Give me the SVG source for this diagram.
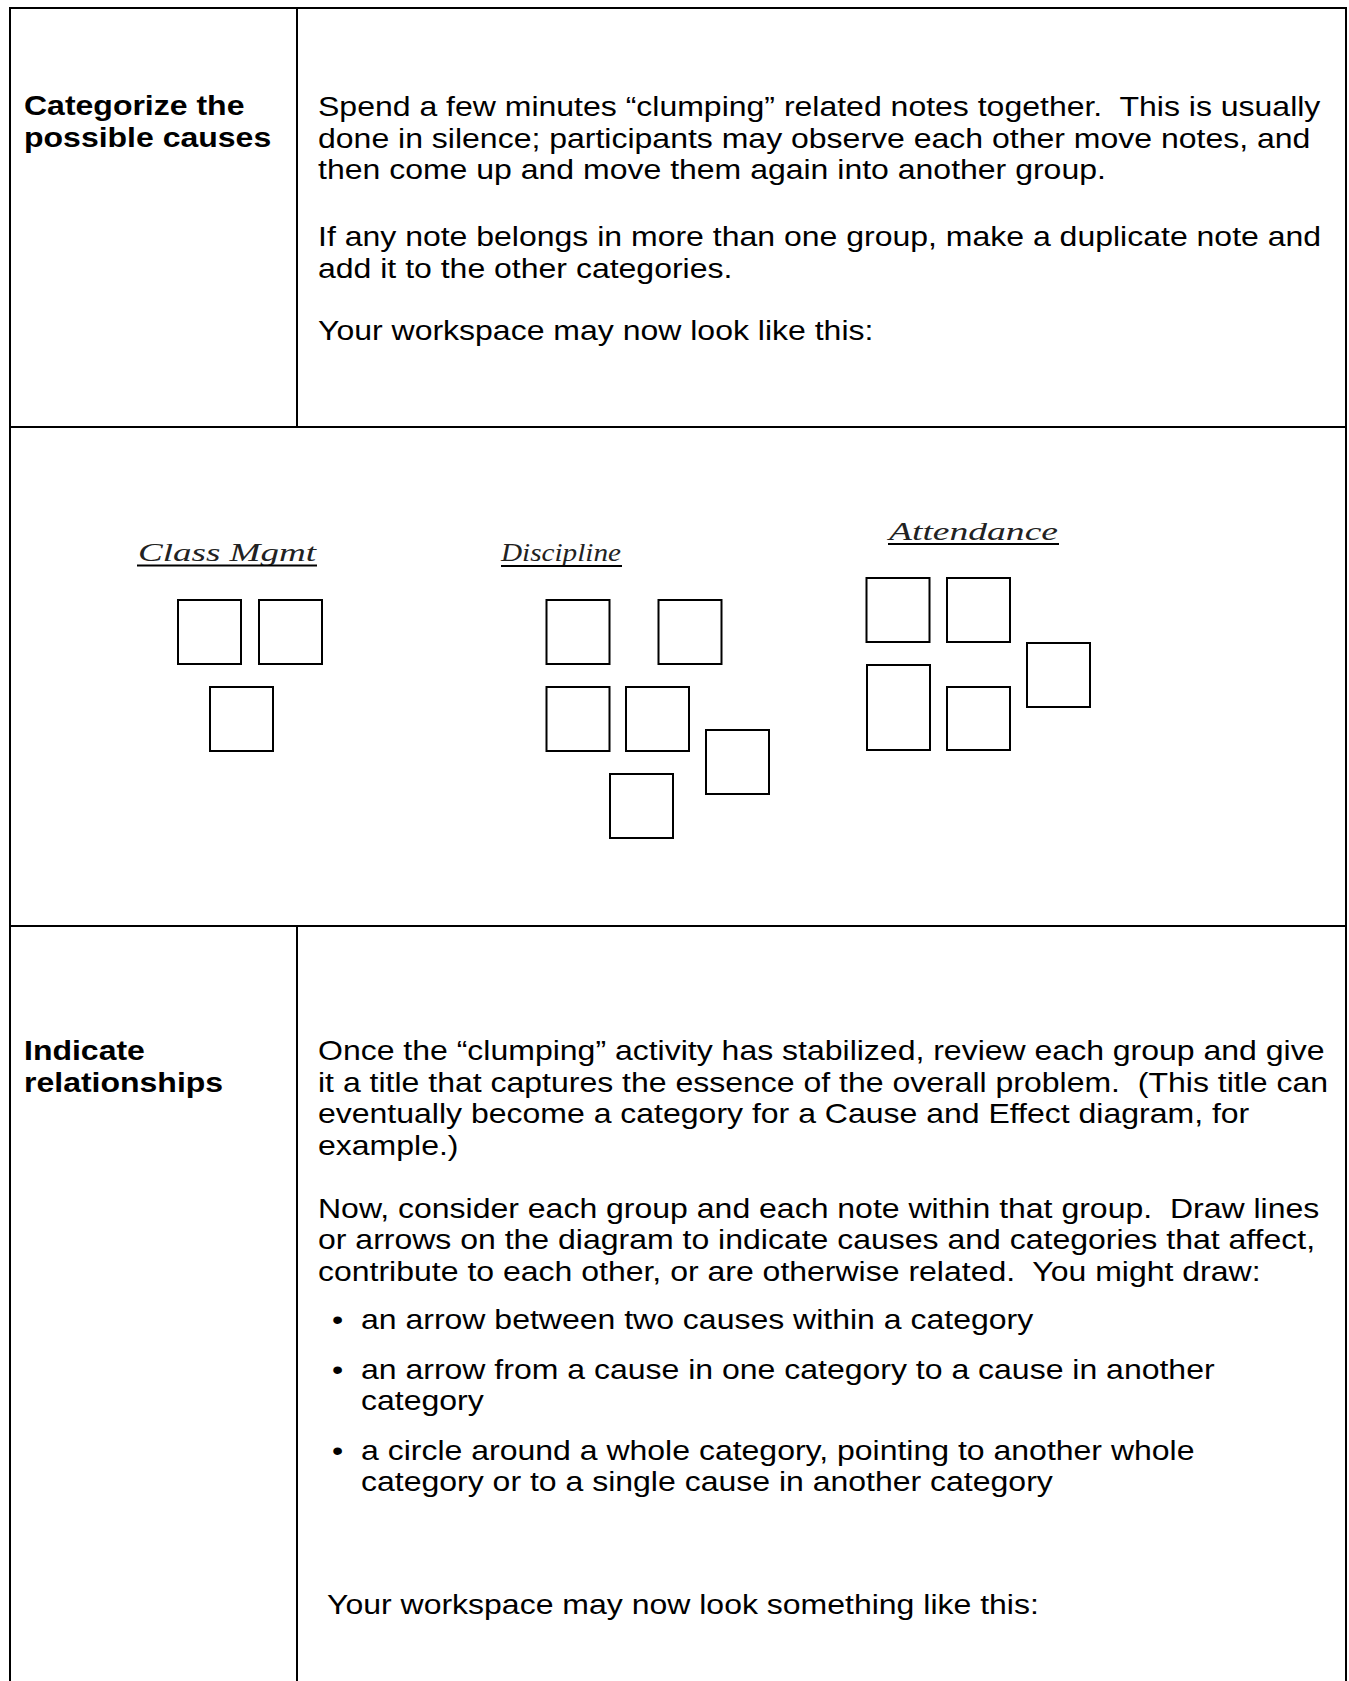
<svg xmlns="http://www.w3.org/2000/svg" width="1349" height="1681" viewBox="0 0 1349 1681">
<style>
.frame{stroke:#000;stroke-width:2;fill:none}
.t{font-family:"Liberation Sans",Arial,sans-serif;font-size:32px;fill:#000;white-space:pre}
.b{font-weight:bold}
.note{fill:#fff;stroke:#000;stroke-width:2}
.lbl{font-family:"Liberation Serif","DejaVu Serif",serif;font-style:italic;font-size:25px;fill:#222}
.ul{stroke:#000;stroke-width:2}
</style>
<rect width="1349" height="1681" fill="#fff"/>
<g id="table">
<path class="frame" d="M10 1681 V8 H1346 V1681 M10 427 H1346 M10 926 H1346 M297 8 V427 M297 926 V1681"/>
</g>
<g id="step-categorize">
<text class="t b" transform="matrix(1 0 0 0.87 24 115)">Categorize the</text>
<text class="t b" transform="matrix(1 0 0 0.87 24 147)">possible causes</text>
<text class="t" transform="matrix(1 0 0 0.87 318 116)">Spend a few minutes “clumping” related notes together.  This is usually</text>
<text class="t" transform="matrix(1 0 0 0.87 318 147.5)">done in silence; participants may observe each other move notes, and</text>
<text class="t" transform="matrix(1 0 0 0.87 318 179)">then come up and move them again into another group.</text>
<text class="t" transform="matrix(1 0 0 0.87 318 246)">If any note belongs in more than one group, make a duplicate note and</text>
<text class="t" transform="matrix(1 0 0 0.87 318 277.5)">add it to the other categories.</text>
<text class="t" transform="matrix(1 0 0 0.87 318 340)">Your workspace may now look like this:</text>
</g>
<g id="workspace">
<g id="label-class-mgmt"><text class="lbl" x="138" y="561" textLength="178" lengthAdjust="spacingAndGlyphs">Class Mgmt</text><line class="ul" x1="137" y1="565.5" x2="317" y2="565.5"/></g>
<g id="label-discipline"><text class="lbl" x="501" y="561" textLength="120" lengthAdjust="spacingAndGlyphs">Discipline</text><line class="ul" x1="501" y1="566" x2="622" y2="566"/></g>
<g id="label-attendance"><text class="lbl" x="889" y="540" textLength="169" lengthAdjust="spacingAndGlyphs">Attendance</text><line class="ul" x1="888" y1="544" x2="1059" y2="544"/></g>
<g id="note-cm1"><rect class="note" x="178" y="600" width="63" height="64"/></g>
<g id="note-cm2"><rect class="note" x="259" y="600" width="63" height="64"/></g>
<g id="note-cm3"><rect class="note" x="210" y="687" width="63" height="64"/></g>
<g id="note-d1"><rect class="note" x="546.5" y="600" width="63" height="64"/></g>
<g id="note-d2"><rect class="note" x="658.5" y="600" width="63" height="64"/></g>
<g id="note-d3"><rect class="note" x="546.5" y="687" width="63" height="64"/></g>
<g id="note-d4"><rect class="note" x="626" y="687" width="63" height="64"/></g>
<g id="note-d5"><rect class="note" x="610" y="774" width="63" height="64"/></g>
<g id="note-d6"><rect class="note" x="706" y="730" width="63" height="64"/></g>
<g id="note-a1"><rect class="note" x="866.5" y="578" width="63" height="64"/></g>
<g id="note-a2"><rect class="note" x="947" y="578" width="63" height="64"/></g>
<g id="note-a3"><rect class="note" x="1027" y="643" width="63" height="64"/></g>
<g id="note-a4"><rect class="note" x="867" y="665" width="63" height="85"/></g>
<g id="note-a5"><rect class="note" x="947" y="687" width="63" height="63"/></g>
</g>
<g id="connectors"/>
<g id="step-relationships">
<text class="t b" transform="matrix(1 0 0 0.87 24 1060)">Indicate</text>
<text class="t b" transform="matrix(1 0 0 0.87 24 1091.5)">relationships</text>
<text class="t" transform="matrix(1 0 0 0.87 318 1060)">Once the “clumping” activity has stabilized, review each group and give</text>
<text class="t" transform="matrix(1 0 0 0.87 318 1091.5)">it a title that captures the essence of the overall problem.  (This title can</text>
<text class="t" transform="matrix(1 0 0 0.87 318 1123)">eventually become a category for a Cause and Effect diagram, for</text>
<text class="t" transform="matrix(1 0 0 0.87 318 1154.5)">example.)</text>
<text class="t" transform="matrix(1 0 0 0.87 318 1217.5)">Now, consider each group and each note within that group.  Draw lines</text>
<text class="t" transform="matrix(1 0 0 0.87 318 1249)">or arrows on the diagram to indicate causes and categories that affect,</text>
<text class="t" transform="matrix(1 0 0 0.87 318 1280.5)">contribute to each other, or are otherwise related.  You might draw:</text>
<text class="t" transform="matrix(1 0 0 0.87 332 1329)">•</text>
<text class="t" transform="matrix(1 0 0 0.87 361 1329)">an arrow between two causes within a category</text>
<text class="t" transform="matrix(1 0 0 0.87 332 1378.5)">•</text>
<text class="t" transform="matrix(1 0 0 0.87 361 1378.5)">an arrow from a cause in one category to a cause in another</text>
<text class="t" transform="matrix(1 0 0 0.87 361 1409.5)">category</text>
<text class="t" transform="matrix(1 0 0 0.87 332 1459.5)">•</text>
<text class="t" transform="matrix(1 0 0 0.87 361 1459.5)">a circle around a whole category, pointing to another whole</text>
<text class="t" transform="matrix(1 0 0 0.87 361 1490.5)">category or to a single cause in another category</text>
<text class="t" transform="matrix(1 0 0 0.87 327 1614)">Your workspace may now look something like this:</text>
</g>
</svg>
